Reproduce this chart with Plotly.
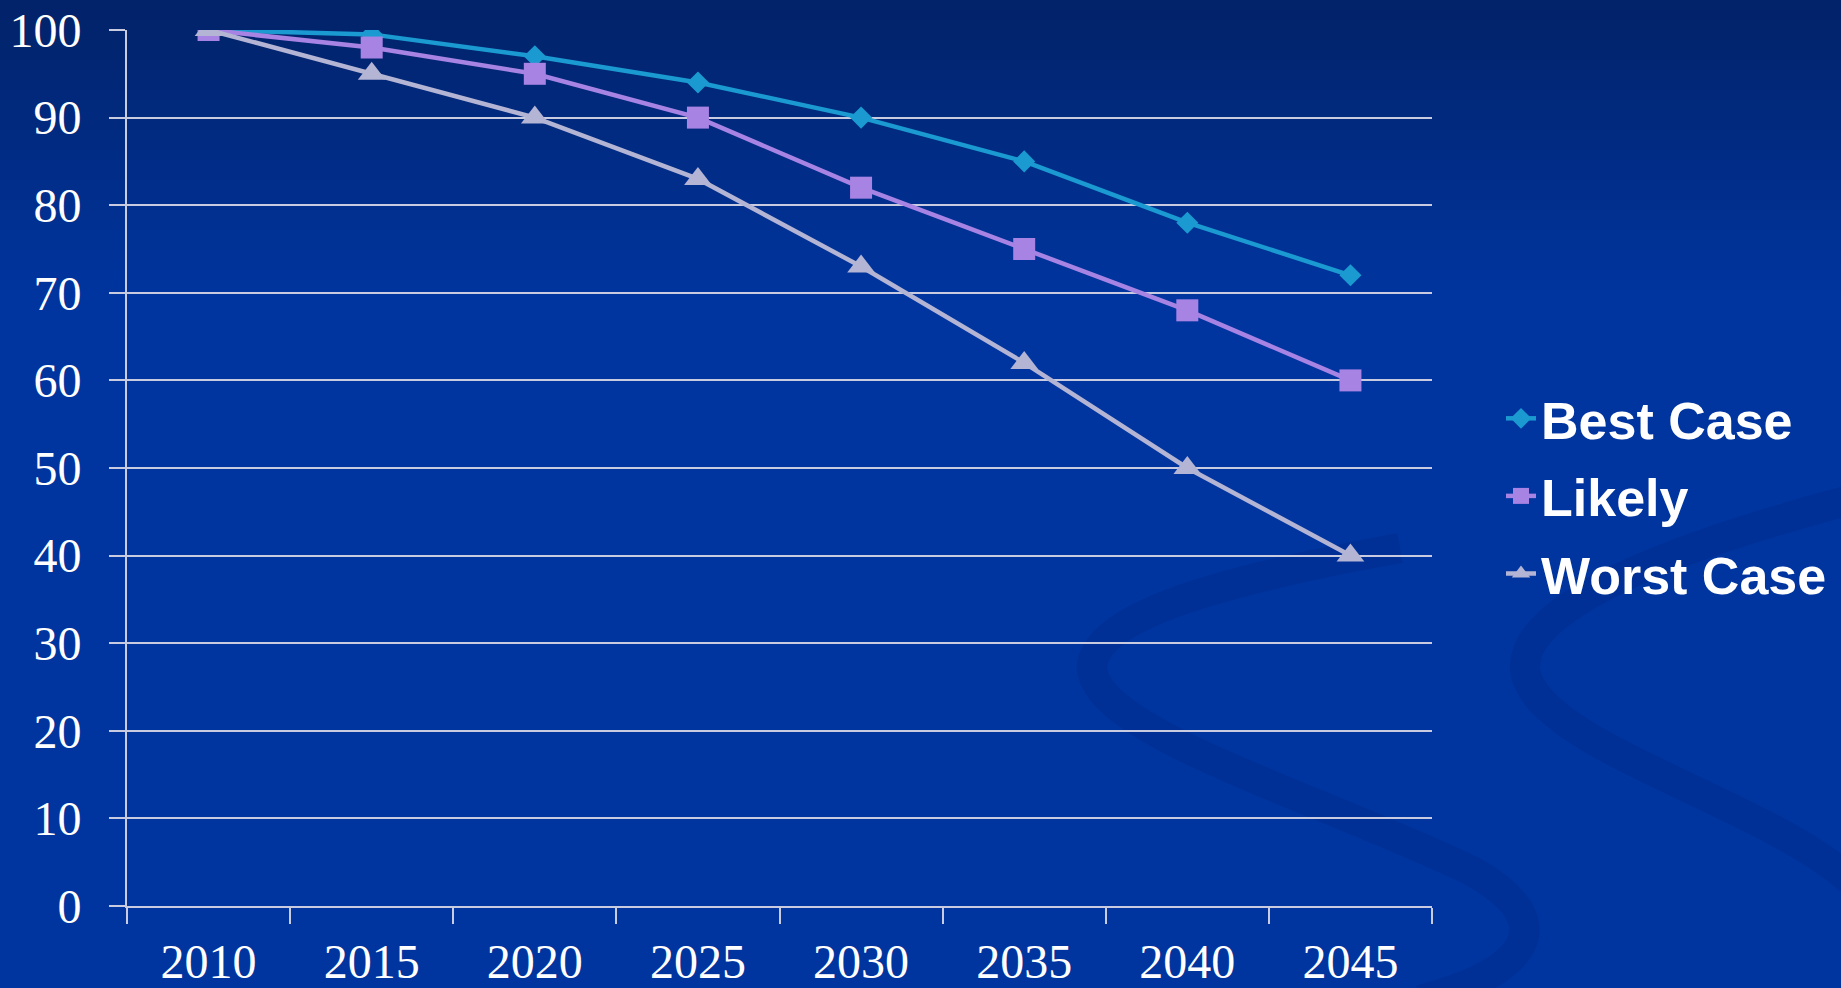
import plotly.graph_objects as go

years = ["2010", "2015", "2020", "2025", "2030", "2035", "2040", "2045"]
best_case = [100, 99.5, 97, 94, 90, 85, 78, 72]
likely = [100, 98, 95, 90, 82, 75, 68, 60]
worst_case = [100, 95, 90, 83, 73, 62, 50, 40]
y_ticks = [0, 10, 20, 30, 40, 50, 60, 70, 80, 90, 100]

W, H = 1841, 988
L, R, T, B = 127, 409, 30, 82
PW, PH = W - L - R, H - T - B


def px(x):
    return (x - L) / PW


def py(y):
    return (H - B - y) / PH


fig = go.Figure()

series = [
    ("Best Case", best_case, "#1a9ad0", "diamond", 17),
    ("Likely", likely, "#a783e3", "square", 22),
    ("Worst Case", worst_case, "#b4b4d4", "triangle-up", 24),
]
for name, vals, col, sym, sz in series:
    fig.add_trace(go.Scatter(
        x=years, y=vals, name=name, mode="lines+markers", legendgroup=name,
        line=dict(color=col, width=4.5),
        marker=dict(symbol=sym, size=sz, color=col),
    ))

# background vertical gradient (top darker)
shapes = []
top = (2, 34, 104)
mid = (0, 53, 160)
n = 30
grad_end = 300.0
for i in range(n):
    y0 = grad_end * i / n
    y1 = grad_end * (i + 1) / n
    k = 1 - (i + 0.5) / n
    c = tuple(int(round(mid[j] + (top[j] - mid[j]) * k)) for j in range(3))
    shapes.append(dict(type="rect", xref="paper", yref="paper",
                       x0=px(-5), x1=px(W + 5), y0=py(y1 + 1), y1=py(y0 - (5 if i == 0 else 0)),
                       fillcolor="rgb(%d,%d,%d)" % c, line=dict(width=0), layer="below"))
shapes.append(dict(type="rect", xref="paper", yref="paper",
                   x0=px(-5), x1=px(W + 5), y0=py(H + 5), y1=py(grad_end),
                   fillcolor="rgb(%d,%d,%d)" % mid, line=dict(width=0), layer="below"))


def path(pts):
    s = "M %.4f,%.4f" % (px(pts[0][0]), py(pts[0][1]))
    for i in range(1, len(pts), 3):
        a, b, c = pts[i], pts[i + 1], pts[i + 2]
        s += " C %.4f,%.4f %.4f,%.4f %.4f,%.4f" % (px(a[0]), py(a[1]), px(b[0]), py(b[1]), px(c[0]), py(c[1]))
    return s


swirl1 = [(1400, 548), (1250, 575), (1100, 610), (1092, 665),
          (1090, 730), (1300, 790), (1470, 870),
          (1570, 925), (1520, 975), (1420, 1000)]
swirl2 = [(1850, 500), (1700, 540), (1520, 600), (1525, 670),
          (1535, 745), (1760, 800), (1850, 880)]
for pts, w in [(swirl1, 30), (swirl2, 30)]:
    shapes.append(dict(type="path", xref="paper", yref="paper", path=path(pts),
                       line=dict(color="rgba(0,25,100,0.16)", width=w), layer="below"))

fig.update_layout(
    width=W, height=H,
    margin=dict(l=L, r=R, t=T, b=B, autoexpand=False),
    paper_bgcolor="rgb(0,53,160)",
    plot_bgcolor="rgba(0,0,0,0)",
    shapes=shapes,
    showlegend=True,
    legend=dict(
        x=px(1501), y=py(378), xanchor="left", yanchor="top",
        bgcolor="rgba(0,0,0,0)",
        font=dict(family="Liberation Sans", size=52, color="white", weight="bold"),
        itemwidth=30, tracegroupgap=7,
    ),
    xaxis=dict(
        type="category", range=[-0.5, 7.5], tickson="boundaries", automargin=False,
        showgrid=False, showline=True, linecolor="#c9cbe0", linewidth=2,
        ticks="outside", ticklen=16, tickwidth=2, tickcolor="#c9cbe0",
        tickfont=dict(family="Liberation Serif", size=48, color="white"),
        ticklabelstandoff=12,
    ),
    yaxis=dict(
        range=[0, 100], tickvals=y_ticks, automargin=False,
        showgrid=True, gridcolor="#c9cbe0", gridwidth=2,
        showline=True, linecolor="#c9cbe0", linewidth=2,
        ticks="outside", ticklen=16, tickwidth=2, tickcolor="#c9cbe0",
        tickfont=dict(family="Liberation Serif", size=48, color="white"),
        ticklabelstandoff=18,
        zeroline=False,
    ),
)

fig.write_html("out.html", config={"displayModeBar": False},
               post_script="document.body.style.margin='0';document.body.style.overflow='hidden';")
